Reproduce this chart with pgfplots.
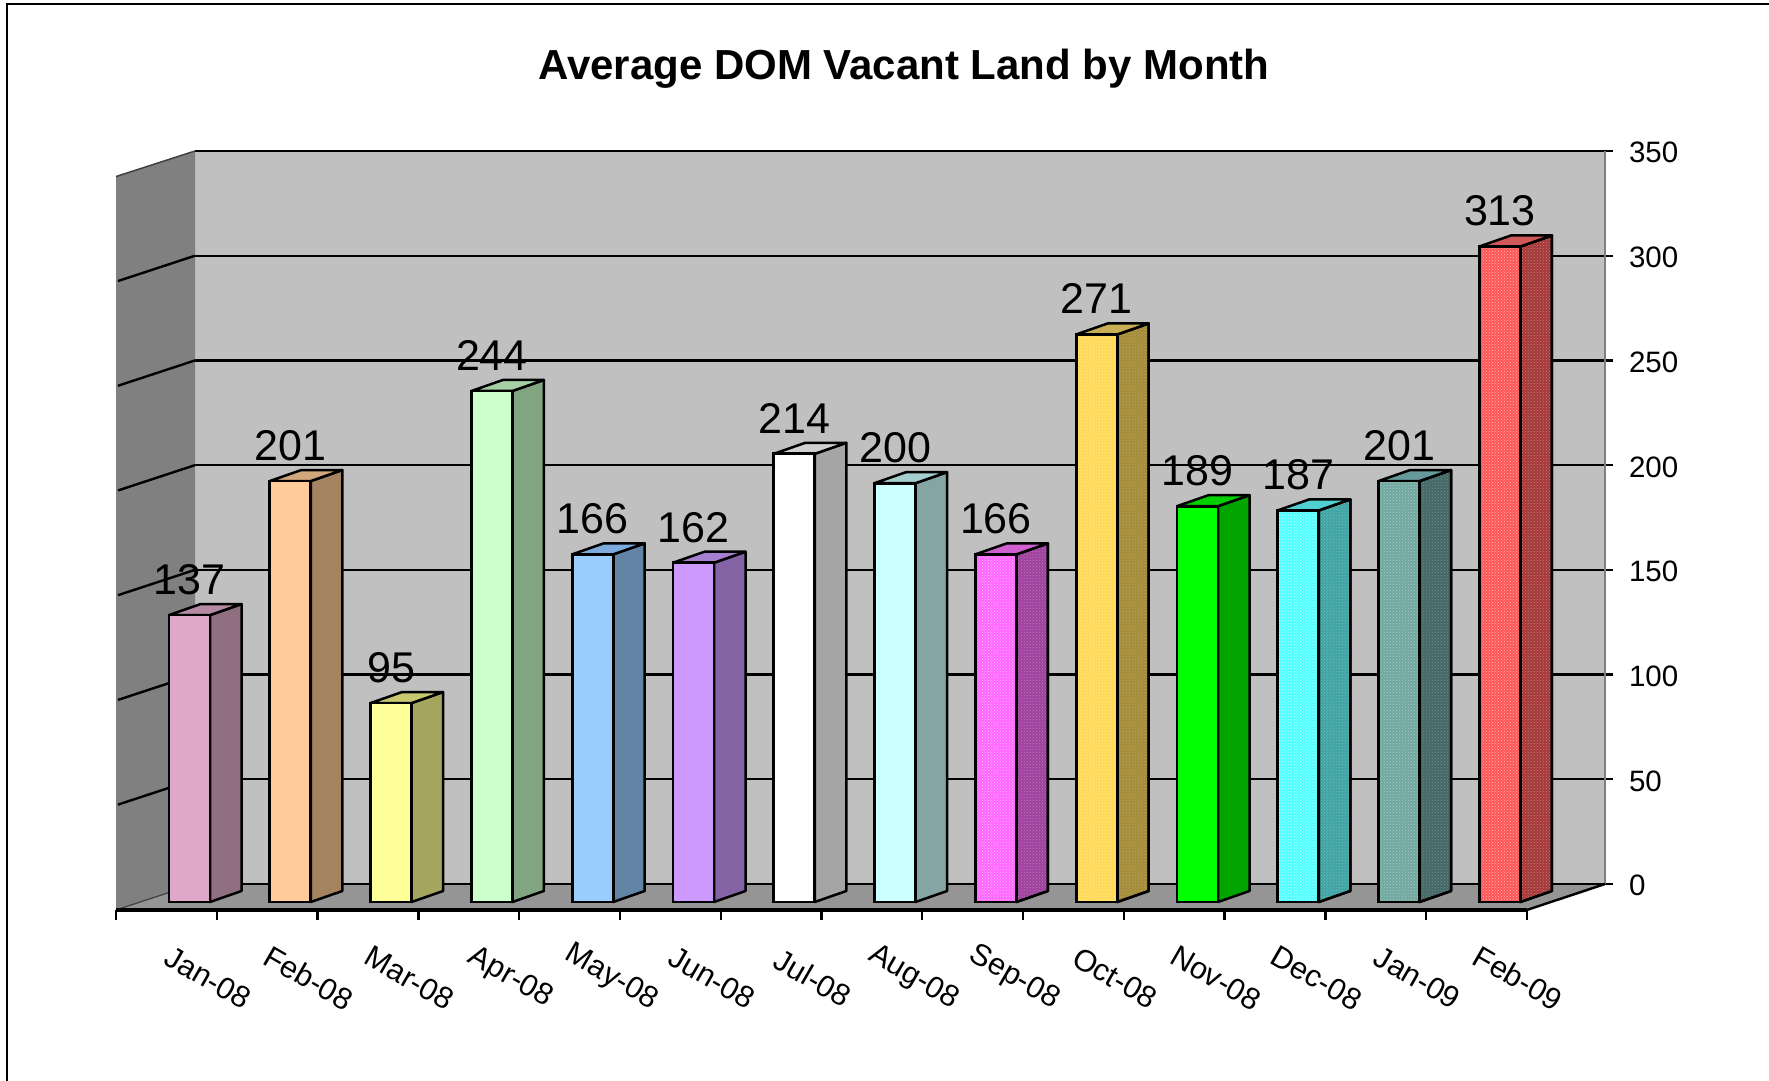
\documentclass[border=0pt]{standalone}
\usepackage{fontspec}
\setmainfont{Liberation Sans}
\usepackage{pgfplots}
\usetikzlibrary{patterns}
\pgfplotsset{compat=1.18}
\definecolor{wall}{HTML}{C0C0C0}
\definecolor{lwall}{HTML}{808080}
\definecolor{floorc}{HTML}{959595}
\definecolor{af}{HTML}{E0A8C8}\definecolor{as}{HTML}{907080}\definecolor{at}{HTML}{B48AA2}
\definecolor{bf}{HTML}{FFCC99}\definecolor{bs}{HTML}{A58360}\definecolor{bt}{HTML}{D0A67A}
\definecolor{cf}{HTML}{FFFF99}\definecolor{cs}{HTML}{A5A560}\definecolor{ct}{HTML}{C8C870}
\definecolor{df}{HTML}{CCFFCC}\definecolor{ds}{HTML}{80A580}\definecolor{dt}{HTML}{A5CFA5}
\definecolor{ef}{HTML}{99CCFF}\definecolor{es}{HTML}{6385A5}\definecolor{et}{HTML}{7FAADD}
\definecolor{ff}{HTML}{CC99FF}\definecolor{fs}{HTML}{8463A5}\definecolor{ft}{HTML}{A67FD0}
\definecolor{gf}{HTML}{FFFFFF}\definecolor{gs}{HTML}{A5A5A5}\definecolor{gt}{HTML}{D0D0D0}
\definecolor{hf}{HTML}{CCFFFF}\definecolor{hs}{HTML}{85A5A5}\definecolor{ht}{HTML}{A5CFCF}
\definecolor{if}{HTML}{FF66FF}\definecolor{is}{HTML}{A040A0}\definecolor{it}{HTML}{D060D0}
\definecolor{if2}{HTML}{FFC0FF}\definecolor{is2}{HTML}{B080B0}
\definecolor{jf}{HTML}{FFD855}\definecolor{js}{HTML}{A58C35}\definecolor{jt}{HTML}{C8AE55}
\definecolor{jf2}{HTML}{FFEEA0}\definecolor{js2}{HTML}{B8A878}
\definecolor{kf}{HTML}{00FF00}\definecolor{ks}{HTML}{00A500}\definecolor{kt}{HTML}{00D000}
\definecolor{lf}{HTML}{50FFFF}\definecolor{ls}{HTML}{3DA5A5}\definecolor{lt}{HTML}{50D0D0}
\definecolor{lf2}{HTML}{C0FFFF}\definecolor{ls2}{HTML}{80B8B8}
\definecolor{mf}{HTML}{70A8A0}\definecolor{ms}{HTML}{446866}\definecolor{mt}{HTML}{669999}
\definecolor{mf2}{HTML}{A8CCC4}\definecolor{ms2}{HTML}{709090}
\definecolor{nf}{HTML}{FF5555}\definecolor{ns}{HTML}{A83838}\definecolor{nt}{HTML}{D05858}
\definecolor{nf2}{HTML}{FFB8B8}\definecolor{ns2}{HTML}{B88080}
\tikzset{nohatch/.style={},hatch/.style={postaction={pattern=crosshatch dots,pattern color=#1}}}
\newcommand\tdbar[4]{%
  \pgfmathsetmacro\xl{#1-0.2034}%
  \pgfmathsetmacro\xa{#1+0.2034}%
  \pgfmathsetmacro\xb{\xa+0.3125}%
  \pgfmathsetmacro\xc{\xl+0.3125}%
  \pgfmathsetmacro\vb{#2+5.25}%
  \edef\temp{\noexpand\addplot[fill=#3s,draw=black,line width=2.5pt,line join=round,#4=#3s2]
     coordinates {(\xa,0)(\xb,5.25)(\xb,\vb)(\xa,#2)} -- cycle;
   \noexpand\addplot[fill=#3t,draw=black,line width=2.5pt,line join=round]
     coordinates {(\xl,#2)(\xc,\vb)(\xb,\vb)(\xa,#2)} -- cycle;
   \noexpand\addplot[ybar,bar width=41pt,bar shift=0pt,fill=#3f,draw=black,line width=2.8pt,#4=#3f2]
     coordinates {(#1,#2)};}%
  \temp}
\begin{document}
\begin{tikzpicture}[x=1pt,y=1pt]
\path[use as bounding box] (0,0) rectangle (1769,1081);
\draw[black,line width=2.4pt] (7,0) -- (7,1077) -- (1769,1077);
\node[font=\fontsize{42}{50}\selectfont\bfseries,anchor=center] at (904,1012) {Average DOM Vacant Land by Month};
% back wall, left wall, floor
\begin{axis}[at={(195pt,197pt)},anchor=south west,scale only axis,width=1410pt,height=733pt,
  xmin=195,xmax=1605,ymin=0,ymax=350,clip=false,
  axis x line=none,axis y line*=right,
  y axis line style={-,draw=lwall,line width=2.5pt},
  axis background/.style={fill=wall},
  ytick={0,50,...,350},ymajorgrids,
  grid style={black,line width=2.4pt},
  ytick style={black,line width=2.4pt},tick align=outside,major tick length=8pt,
  /pgf/number format/assume math mode=true,
  yticklabel style={anchor=west,font=\fontsize{29.5}{34}\selectfont,xshift=12.5pt,yshift=-1.8pt},
  ]
\addplot[fill=lwall,draw=none] coordinates {(116,337.8)(195,350)(195,0)(116,-12.4)} -- cycle;
\addplot[fill=floorc,draw=none] coordinates {(116,-12.4)(195,0)(1605,0)(1527,-12.4)} -- cycle;
\addplot[black,line width=2.4pt] coordinates {(195,0)(1605,0)};
\addplot[black,line width=2.4pt] coordinates {(1527,-12.4)(1605,0)};
\addplot[darkgray,line width=1.2pt] coordinates {(116,-12.4)(195,0)};
\addplot[darkgray,line width=1.5pt] coordinates {(116,337.8)(195,350)};
\addplot[black,line width=2.4pt] coordinates {(118,37.9)(195,50)};
\addplot[black,line width=2.4pt] coordinates {(118,87.9)(195,100)};
\addplot[black,line width=2.4pt] coordinates {(118,137.9)(195,150)};
\addplot[black,line width=2.4pt] coordinates {(118,187.9)(195,200)};
\addplot[black,line width=2.4pt] coordinates {(118,237.9)(195,250)};
\addplot[black,line width=2.4pt] coordinates {(118,287.9)(195,300)};
\end{axis}
% front edge of the floor with the month labels
\begin{axis}[at={(116pt,171pt)},anchor=south west,scale only axis,width=1411pt,height=10pt,
  xmin=0,xmax=14,ymin=0,ymax=1,clip=false,
  axis y line=none,axis x line*=bottom,
  x axis line style={-,black,line width=3.2pt},
  xtick={0.5,1.5,...,13.5},
  minor xtick={0,1,...,14},
  xticklabels={Jan-08,Feb-08,Mar-08,Apr-08,May-08,Jun-08,Jul-08,Aug-08,Sep-08,Oct-08,Nov-08,Dec-08,Jan-09,Feb-09},
  tick align=outside,major tick length=0pt,minor tick length=10pt,
  minor tick style={black,line width=2.4pt},
  xticklabel style={anchor=center,rotate=-30,font=\fontsize{30.5}{36}\selectfont,xshift=70pt,yshift=-38pt},
  ]
\end{axis}
% bars
\begin{axis}[at={(139.1pt,179pt)},anchor=south west,scale only axis,width=1411.2pt,height=733pt,
  xmin=-0.5,xmax=13.5,ymin=0,ymax=350,clip=false,hide axis]
\tdbar{0}{137}{a}{nohatch}
\tdbar{1}{201}{b}{nohatch}
\tdbar{2}{95}{c}{nohatch}
\tdbar{3}{244}{d}{nohatch}
\tdbar{4}{166}{e}{nohatch}
\tdbar{5}{162}{f}{nohatch}
\tdbar{6}{214}{g}{nohatch}
\tdbar{7}{200}{h}{nohatch}
\tdbar{8}{166}{i}{hatch}
\tdbar{9}{271}{j}{hatch}
\tdbar{10}{189}{k}{nohatch}
\tdbar{11}{187}{l}{hatch}
\tdbar{12}{201}{m}{hatch}
\tdbar{13}{313}{n}{hatch}
\addplot[draw=none,mark=none,point meta=y,nodes near coords,
  nodes near coords style={anchor=center,yshift=35.5pt,font=\fontsize{43}{50}\selectfont,text=black,
    /pgf/number format/assume math mode=true}]
  coordinates {(0,137)(1,201)(2,95)(3,244)(4,166)(5,162)(6,214)(7,200)(8,166)(9,271)(10,189)(11,187)(12,201)(13,313)};
\end{axis}
\end{tikzpicture}
\end{document}
